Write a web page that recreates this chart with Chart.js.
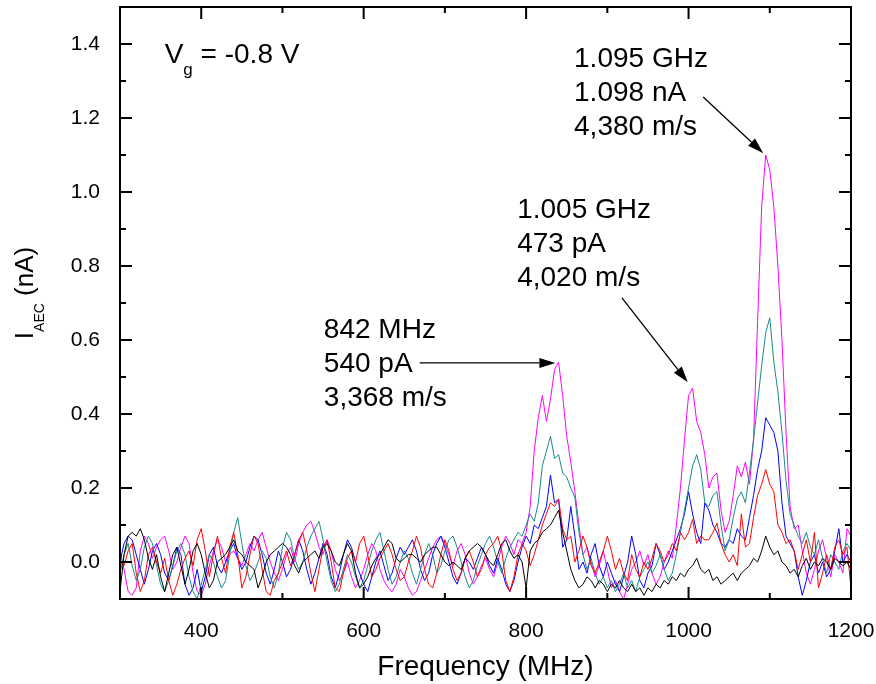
<!DOCTYPE html>
<html>
<head>
<meta charset="utf-8">
<script src="https://cdn.jsdelivr.net/npm/chart.js@4.4.1/dist/chart.umd.min.js"></script>
<style>
  html, body { margin: 0; padding: 0; background: #fff; }
</style>
</head>
<body>
<canvas id="chart" width="876" height="684"></canvas>
<script>
// sampling grid of the spectra (MHz)
const FREQ_START = 300;
const FREQ_STEP = 5;

// I_AEC (nA) traces, one value per 5 MHz from 300 to 1200 MHz
const black = [
  -0.08, 0.02, 0.07, 0.08, 0.07, 0.09, 0.06, 0.01, -0.02, 0.02,
  -0.04, -0.08, -0.03, 0.02, 0.04, -0.01, -0.06, -0.02, 0.03, 0.05,
  0.02, -0.03, -0.07, -0.05, 0.00, 0.01, 0.02, 0.04, 0.06, 0.03,
  0.02, 0.00, -0.01, -0.02, -0.07, -0.04, 0.00, 0.02, 0.03, 0.04,
  0.05, 0.04, 0.02, -0.01, -0.03, 0.00, 0.01, 0.02, 0.03, 0.01,
  0.04, 0.05, 0.03, 0.00, -0.01, 0.02, 0.05, 0.03, -0.03, -0.07,
  -0.06, -0.04, -0.01, 0.01, 0.02, 0.04, 0.06, 0.05, 0.01, 0.00,
  0.01, 0.02, 0.02, 0.01, 0.00, 0.02, 0.03, 0.04, 0.04, 0.02,
  0.00, -0.01, 0.00, -0.01, -0.02, 0.01, 0.03, 0.04, 0.05, 0.04,
  0.02, 0.00, -0.01, 0.02, 0.05, 0.06, 0.03, 0.01, 0.02, 0.00,
  -0.07, 0.03, 0.05, 0.06, 0.08, 0.09, 0.10, 0.12, 0.14, 0.08,
  0.03, -0.02, -0.05, -0.07, -0.06, -0.04, -0.05, -0.07, -0.05, -0.06,
  -0.08, -0.06, -0.07, -0.05, -0.07, -0.08, -0.06, -0.08, -0.07, -0.09,
  -0.07, -0.08, -0.06, -0.07, -0.05, -0.06, -0.04, -0.05, -0.03, -0.04,
  -0.02, -0.01, 0.01, -0.02, -0.03, -0.02, -0.05, -0.04, -0.06, -0.05,
  -0.04, -0.03, -0.05, -0.03, -0.02, -0.01, 0.01, 0.00, 0.03, 0.07,
  0.04, 0.02, 0.03, 0.00, -0.01, -0.03, -0.02, -0.04, -0.01, 0.01,
  -0.02, 0.00, -0.01, 0.01, 0.00, -0.02, 0.01, 0.00, -0.01, 0.00,
  -0.02
];
const red = [
  0.00, -0.01, 0.03, 0.05, -0.03, -0.08, -0.05, 0.02, 0.04, 0.00,
  -0.03, 0.01, -0.05, -0.09, -0.06, -0.02, 0.01, 0.03, -0.01, 0.06,
  0.09, 0.03, -0.04, 0.02, 0.07, 0.01, -0.03, 0.04, 0.08, 0.02,
  -0.07, -0.04, 0.02, 0.07, 0.05, -0.02, -0.08, -0.09, -0.05, -0.03,
  0.00, 0.03, -0.01, 0.02, 0.06, 0.08, 0.03, -0.03, -0.08, -0.02,
  0.04, 0.06, 0.00, -0.07, -0.08, -0.03, 0.01, 0.03, 0.00, 0.05,
  0.07, 0.02, -0.04, -0.02, 0.01, 0.03, 0.05, 0.02, -0.02, -0.05,
  -0.04, 0.00, 0.03, 0.07, 0.04, -0.02, -0.06, -0.07, -0.03, 0.02,
  0.06, 0.03, -0.02, -0.05, -0.03, 0.01, 0.03, 0.00, -0.04, -0.02,
  0.02, 0.04, 0.05, 0.07, 0.03, -0.05, -0.08, -0.04, 0.02, 0.05,
  0.03, -0.01, 0.02, 0.06, 0.10, 0.13, 0.16, 0.15, 0.17, 0.09,
  0.06, 0.07, 0.00, 0.03, 0.07, 0.04, -0.01, -0.03, 0.00, 0.03,
  0.07, 0.03, -0.02, 0.01, -0.03, -0.05, 0.02, -0.02, -0.04, 0.00,
  -0.02, 0.01, 0.05, 0.03, 0.00, 0.02, 0.05, 0.03, 0.08, 0.06,
  0.08, 0.115, 0.05, 0.07, 0.06, 0.06, 0.08, 0.105, 0.05, 0.02,
  0.00, 0.02, -0.01, 0.13, 0.04, 0.05, 0.12, 0.18, 0.21, 0.25,
  0.21, 0.19, 0.10, 0.08, 0.05, 0.06, 0.03, -0.02, 0.02, 0.06,
  0.00, 0.08, -0.07, -0.03, 0.02, -0.02, 0.04, 0.06, 0.02, 0.04,
  -0.07
];
const blue = [
  0.00, 0.05, 0.07, 0.06, 0.02, -0.02, -0.06, -0.02, 0.03, 0.05,
  0.02, -0.03, -0.05, -0.01, 0.04, 0.02, -0.06, -0.09, -0.07, -0.02,
  -0.08, -0.04, 0.02, 0.04, -0.01, -0.03, 0.00, 0.03, 0.05, 0.01,
  -0.02, 0.00, 0.04, 0.07, 0.06, 0.02, -0.03, -0.06, -0.02, 0.03,
  0.00, -0.04, -0.02, 0.02, 0.06, 0.03, -0.02, -0.06, -0.03, 0.01,
  0.05, 0.02, -0.04, -0.07, -0.03, 0.02, 0.06, 0.04, 0.00, -0.03,
  -0.06, -0.08, -0.04, 0.00, 0.03, -0.01, -0.05, -0.03, 0.01, 0.04,
  0.02, 0.04, 0.06, 0.03, -0.02, -0.05, -0.03, 0.02, 0.05, 0.07,
  0.04, 0.00, -0.04, -0.06, -0.03, 0.01, 0.00, -0.02, 0.01, 0.04,
  0.02, -0.01, -0.03, 0.01, -0.02, -0.06, -0.08, -0.05, 0.00, 0.04,
  0.07, 0.05, 0.10, 0.09, 0.12, 0.15, 0.235, 0.16, 0.17, 0.04,
  0.06, 0.15, 0.07, -0.02, 0.00, -0.03, 0.02, 0.05, -0.01, -0.04,
  0.00, -0.03, -0.06, -0.08, -0.04, 0.00, 0.07, 0.02, -0.05, -0.07,
  -0.03, -0.01, 0.05, 0.02, -0.02, 0.00, 0.03, 0.06, 0.09, 0.13,
  0.19, 0.13, 0.08, 0.05, 0.16, 0.14, 0.10, 0.08, 0.05, 0.04,
  0.06, 0.05, 0.09, 0.07, 0.06, 0.12, 0.18, 0.25, 0.30, 0.39,
  0.37, 0.35, 0.30, 0.16, 0.07, 0.05, 0.03, -0.04, -0.09, -0.05,
  0.00, 0.02, -0.03, 0.00, -0.04, -0.02, 0.03, 0.09, 0.00, 0.02,
  0.00
];
const teal = [
  -0.03, 0.02, 0.05, -0.01, -0.05, -0.02, 0.04, 0.07, 0.05, -0.01,
  -0.06, -0.08, -0.05, -0.01, 0.03, 0.05, 0.02, -0.04, -0.08, -0.10,
  -0.06, -0.02, 0.02, 0.00, -0.04, -0.07, -0.05, 0.02, 0.08, 0.12,
  0.05, -0.01, -0.05, -0.03, 0.00, 0.03, 0.01, -0.04, -0.07, -0.03,
  0.04, 0.08, 0.06, 0.01, -0.02, 0.00, 0.04, 0.07, 0.09, 0.11,
  0.06, 0.00, -0.05, -0.08, -0.06, -0.02, 0.02, 0.00, -0.04, -0.07,
  -0.05, -0.01, 0.03, 0.06, 0.08, 0.03, -0.02, -0.06, -0.04, 0.00,
  0.03, 0.01, -0.03, -0.06, -0.02, 0.02, 0.05, 0.02, -0.03, -0.01,
  0.03, 0.06, 0.07, 0.04, 0.00, -0.04, -0.07, -0.05, -0.01, 0.02,
  0.05, 0.07, 0.04, 0.00, -0.03, 0.01, 0.04, 0.06, 0.08, 0.07,
  0.10, 0.13, 0.11, 0.16, 0.26, 0.30, 0.34, 0.28, 0.29, 0.24,
  0.23, 0.20, 0.175, 0.08, 0.02, -0.02, 0.01, -0.03, -0.06, -0.04,
  -0.07, -0.05, -0.08, -0.06, -0.03, -0.07, -0.05, -0.08, -0.04, -0.02,
  0.00, -0.03, -0.01, 0.02, -0.02, -0.05, -0.03, 0.02, 0.08, 0.14,
  0.20, 0.26, 0.29, 0.25, 0.16, 0.15, 0.18, 0.19, 0.10, 0.03,
  0.06, 0.12, 0.17, 0.19, 0.16, 0.24, 0.33, 0.43, 0.53, 0.62,
  0.66, 0.54, 0.46, 0.35, 0.22, 0.13, 0.10, 0.07, 0.05, 0.08,
  0.04, 0.02, 0.06, 0.01, -0.03, 0.02, 0.00, -0.02, 0.03, 0.05,
  0.03
];
const magenta = [
  0.03, -0.02, -0.08, -0.09, -0.07, 0.03, 0.07, 0.05, 0.01, 0.04,
  0.06, 0.07, 0.03, -0.02, 0.00, 0.04, 0.07, 0.05, -0.03, -0.08,
  -0.09, -0.06, -0.01, 0.03, 0.06, 0.04, 0.00, 0.02, 0.03, 0.01,
  -0.01, 0.02, 0.05, 0.03, 0.06, 0.08, 0.04, 0.00, -0.03, -0.05,
  -0.02, 0.02, 0.04, 0.00, 0.05, 0.08, 0.10, 0.11, 0.08, 0.04,
  0.02, 0.06, 0.03, -0.02, -0.05, -0.03, 0.00, -0.04, -0.07, -0.05,
  -0.02, 0.02, 0.05, 0.03, -0.02, -0.05, -0.07, -0.08, -0.06, -0.02,
  -0.04, -0.07, -0.09, -0.08, -0.05, -0.02, 0.01, 0.04, 0.06, 0.07,
  0.05, 0.02, -0.01, 0.03, 0.05, 0.02, -0.03, -0.06, -0.04, -0.01,
  0.01, -0.02, -0.04, 0.00, 0.04, 0.07, 0.05, 0.02, 0.06, 0.05,
  0.08, 0.15, 0.30, 0.39, 0.45, 0.38, 0.44, 0.52, 0.54, 0.45,
  0.34, 0.27, 0.19, 0.10, 0.02, 0.04, 0.00, -0.04, -0.01, 0.03,
  -0.02, -0.07, -0.05, -0.08, -0.10, -0.06, -0.02, 0.00, 0.03, -0.01,
  0.02, -0.03, -0.06, -0.04, 0.00, 0.03, 0.01, 0.10, 0.20, 0.33,
  0.45, 0.47, 0.38, 0.35, 0.29, 0.20, 0.23, 0.24, 0.14, 0.08,
  0.11, 0.18, 0.26, 0.23, 0.27, 0.21, 0.33, 0.65, 0.96, 1.10,
  1.06, 0.96, 0.80, 0.60, 0.35, 0.15, 0.09, 0.10, 0.03, -0.03,
  -0.06, -0.02, 0.03, 0.06, 0.01, -0.04, 0.02, 0.00, -0.03, 0.09,
  0.07
];

// axes
const X_TICKS = [400, 600, 800, 1000, 1200];
const X_MINOR = [300, 500, 700, 900, 1100];
const Y_TICKS = [0.0, 0.2, 0.4, 0.6, 0.8, 1.0, 1.2, 1.4];
const Y_MINOR = [-0.1, 0.1, 0.3, 0.5, 0.7, 0.9, 1.1, 1.3, 1.5];

// peak labels: text anchor (MHz, nA baseline of first line) and arrow ends
const peakNotes = [
  { x: 551, y: 0.605, lines: ['842 MHz', '540 pA', '3,368 m/s'],
    from: [669, 0.538], to: [836, 0.538] },
  { x: 789, y: 0.930, lines: ['1.005 GHz', '473 pA', '4,020 m/s'],
    from: [918, 0.714], to: [999, 0.486] },
  { x: 859, y: 1.338, lines: ['1.095 GHz', '1.098 nA', '4,380 m/s'],
    from: [1018, 1.257], to: [1092, 1.105] }
];

const FONT = '"Liberation Sans", Arial, sans-serif';

function toPoints(values) {
  return values.map((v, i) => ({ x: FREQ_START + i * FREQ_STEP, y: v }));
}

function arrow(ctx, x0, y0, x1, y1) {
  const ang = Math.atan2(y1 - y0, x1 - x0);
  const len = 16, half = 5;
  const bx = x1 - len * Math.cos(ang), by = y1 - len * Math.sin(ang);
  ctx.beginPath();
  ctx.moveTo(x0, y0);
  ctx.lineTo(bx, by);
  ctx.stroke();
  ctx.beginPath();
  ctx.moveTo(x1, y1);
  ctx.lineTo(bx + half * Math.sin(ang), by - half * Math.cos(ang));
  ctx.lineTo(bx - half * Math.sin(ang), by + half * Math.cos(ang));
  ctx.closePath();
  ctx.fill();
}

const framePlugin = {
  id: 'frame',
  afterDraw(chart) {
    const { ctx, chartArea: a, scales: { x, y } } = chart;
    ctx.save();
    ctx.strokeStyle = '#000';
    ctx.fillStyle = '#000';
    ctx.lineWidth = 2;
    ctx.strokeRect(a.left, a.top, a.right - a.left, a.bottom - a.top);

    // inward ticks on all four sides
    ctx.beginPath();
    const xt = (v, len) => {
      const px = x.getPixelForValue(v);
      ctx.moveTo(px, a.bottom); ctx.lineTo(px, a.bottom - len);
      ctx.moveTo(px, a.top); ctx.lineTo(px, a.top + len);
    };
    const yt = (v, len) => {
      const py = y.getPixelForValue(v);
      ctx.moveTo(a.left, py); ctx.lineTo(a.left + len, py);
      ctx.moveTo(a.right, py); ctx.lineTo(a.right - len, py);
    };
    X_TICKS.forEach(v => xt(v, 12));
    X_MINOR.forEach(v => xt(v, 6));
    Y_TICKS.forEach(v => yt(v, 12));
    Y_MINOR.forEach(v => yt(v, 6));
    ctx.stroke();

    // axis titles
    ctx.textBaseline = 'alphabetic';
    ctx.font = '28px ' + FONT;
    ctx.textAlign = 'center';
    ctx.fillText('Frequency (MHz)', (a.left + a.right) / 2, 675);

    ctx.save();
    ctx.translate(33, 293);
    ctx.rotate(-Math.PI / 2);
    ctx.textAlign = 'left';
    ctx.font = '26px ' + FONT;
    const wI = ctx.measureText('I').width;
    const wRest = ctx.measureText(' (nA)').width;
    ctx.font = '14px ' + FONT;
    const wSub = ctx.measureText('AEC').width;
    let tx = -(wI + wSub + wRest) / 2;
    ctx.font = '26px ' + FONT;
    ctx.fillText('I', tx, 0);
    tx += wI;
    ctx.font = '14px ' + FONT;
    ctx.fillText('AEC', tx, 11);
    tx += wSub;
    ctx.font = '26px ' + FONT;
    ctx.fillText(' (nA)', tx, 0);
    ctx.restore();

    // gate voltage label
    ctx.textAlign = 'left';
    let vx = x.getPixelForValue(355);
    const vy = y.getPixelForValue(1.349);
    ctx.font = '28px ' + FONT;
    ctx.fillText('V', vx, vy);
    vx += ctx.measureText('V').width;
    ctx.font = '17px ' + FONT;
    ctx.fillText('g', vx, vy + 12);
    vx += ctx.measureText('g').width;
    ctx.font = '28px ' + FONT;
    ctx.fillText(' = -0.8 V', vx, vy);

    // peak annotations
    ctx.lineWidth = 1.3;
    peakNotes.forEach(n => {
      const px = x.getPixelForValue(n.x);
      const py = y.getPixelForValue(n.y);
      ctx.font = '28px ' + FONT;
      n.lines.forEach((t, i) => ctx.fillText(t, px, py + i * 34));
      arrow(ctx,
        x.getPixelForValue(n.from[0]), y.getPixelForValue(n.from[1]),
        x.getPixelForValue(n.to[0]), y.getPixelForValue(n.to[1]));
    });
    ctx.restore();
  }
};

const series = [
  { data: black, color: '#000000' },
  { data: red, color: '#ff0000' },
  { data: teal, color: '#1a8a8a' },
  { data: blue, color: '#0000ff' },
  { data: magenta, color: '#ff00ff' }
];

new Chart(document.getElementById('chart'), {
  type: 'line',
  data: {
    datasets: series.map(s => ({
      data: toPoints(s.data),
      borderColor: s.color,
      borderWidth: 1,
      pointRadius: 0,
      tension: 0,
      fill: false
    }))
  },
  options: {
    responsive: false,
    animation: false,
    events: [],
    layout: { padding: { top: 7, right: 25, left: 0, bottom: 0 } },
    plugins: { legend: { display: false }, tooltip: { enabled: false } },
    scales: {
      x: {
        type: 'linear',
        min: 300,
        max: 1200,
        grid: { display: false },
        border: { display: false },
        afterBuildTicks: s => { s.ticks = X_TICKS.map(v => ({ value: v })); },
        afterFit: s => { s.height = 85; s.paddingLeft = 0; s.paddingRight = 0; },
        ticks: {
          padding: 12,
          color: '#000',
          font: { family: FONT, size: 21 },
          callback: v => String(v)
        }
      },
      y: {
        type: 'linear',
        min: -0.1,
        max: 1.5,
        grid: { display: false },
        border: { display: false },
        afterBuildTicks: s => { s.ticks = Y_TICKS.map(v => ({ value: v })); },
        afterFit: s => { s.width = 120; s.paddingTop = 0; s.paddingBottom = 0; },
        ticks: {
          padding: 12,
          color: '#000',
          font: { family: FONT, size: 21 },
          callback: v => Number(v).toFixed(1)
        }
      }
    }
  },
  plugins: [framePlugin]
});
</script>
</body>
</html>
